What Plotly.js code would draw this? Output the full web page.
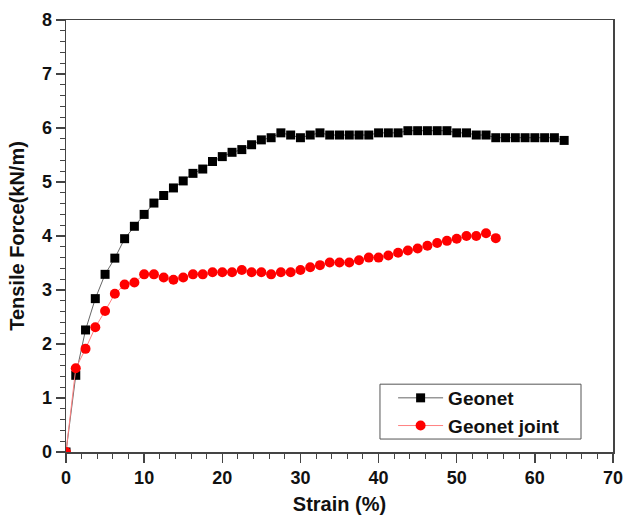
<!DOCTYPE html>
<html>
<head>
<meta charset="utf-8">
<script src="https://cdn.plot.ly/plotly-3.0.1.min.js"></script>
<style>html,body{margin:0;padding:0;background:#fff;}#chart{width:626px;height:516px;}</style>
</head>
<body>
<div id="chart"></div>
<script>
const seriesNames = ["Geonet", "Geonet joint"];
const strainGeonet = [0,1.25,2.5,3.75,5,6.25,7.5,8.75,10,11.25,12.5,13.75,15,16.25,17.5,18.75,20,21.25,22.5,23.75,25,26.25,27.5,28.75,30,31.25,32.5,33.75,35,36.25,37.5,38.75,40,41.25,42.5,43.75,45,46.25,47.5,48.75,50,51.25,52.5,53.75,55,56.25,57.5,58.75,60,61.25,62.5,63.75];
const forceGeonet = [0,1.42,2.26,2.84,3.29,3.59,3.95,4.18,4.40,4.61,4.75,4.89,5.02,5.16,5.24,5.38,5.47,5.55,5.60,5.69,5.78,5.82,5.91,5.87,5.82,5.87,5.91,5.87,5.87,5.87,5.87,5.87,5.91,5.91,5.91,5.95,5.95,5.95,5.95,5.95,5.91,5.91,5.87,5.87,5.82,5.82,5.82,5.82,5.82,5.82,5.82,5.77];
const strainJoint = [0,1.25,2.5,3.75,5,6.25,7.5,8.75,10,11.25,12.5,13.75,15,16.25,17.5,18.75,20,21.25,22.5,23.75,25,26.25,27.5,28.75,30,31.25,32.5,33.75,35,36.25,37.5,38.75,40,41.25,42.5,43.75,45,46.25,47.5,48.75,50,51.25,52.5,53.75,55];
const forceJoint = [0,1.55,1.91,2.31,2.61,2.93,3.10,3.14,3.29,3.29,3.23,3.19,3.23,3.29,3.29,3.33,3.33,3.33,3.37,3.33,3.33,3.29,3.33,3.33,3.37,3.42,3.46,3.51,3.51,3.51,3.55,3.60,3.60,3.64,3.69,3.73,3.77,3.82,3.87,3.91,3.95,4.00,4.00,4.05,3.96];

const FONT = "Liberation Sans, Arial, sans-serif";
const data = [
  {x: strainGeonet, y: forceGeonet, name: seriesNames[0], type: "scatter", mode: "lines+markers",
   line: {color: "#666666", width: 1}, marker: {symbol: "square", size: 9, color: "#000000"}},
  {x: strainJoint, y: forceJoint, name: seriesNames[1], type: "scatter", mode: "lines+markers",
   line: {color: "#ff8080", width: 1}, marker: {symbol: "circle", size: 10, color: "#ff0000"}}
];
const axisCommon = {
  showgrid: false, zeroline: false, showline: true, linecolor: "#444", linewidth: 1.5, mirror: true,
  ticks: "outside", ticklen: 9, tickwidth: 1.5, tickcolor: "#444",
  tickfont: {family: FONT, size: 18, color: "#111", weight: "bold"},
  minor: {ticks: "outside", ticklen: 5, tickwidth: 1, tickcolor: "#444"}
};
const layout = {
  width: 626, height: 516,
  margin: {l: 66, r: 13, t: 20, b: 64},
  paper_bgcolor: "#fff", plot_bgcolor: "#fff",
  showlegend: true,
  legend: {x: 0.598, y: 0.169, xanchor: "left", yanchor: "top", bgcolor: "rgba(0,0,0,0)",
    borderwidth: 0, itemwidth: 45, font: {family: FONT, size: 19, color: "#111", weight: "bold"},
    tracegroupgap: 0},
  shapes: [{type: "rect", xref: "paper", yref: "paper", x0: 0.574, x1: 0.9415, y0: 0.030, y1: 0.157,
    line: {color: "#555", width: 1}, fillcolor: "rgba(0,0,0,0)", layer: "below"}],
  xaxis: Object.assign({}, axisCommon, {range: [0, 70], dtick: 10, minor: Object.assign({}, axisCommon.minor, {dtick: 2}),
    title: {text: "Strain (%)", font: {family: FONT, size: 20, color: "#111", weight: "bold"}, standoff: 10}}),
  yaxis: Object.assign({}, axisCommon, {range: [0, 8], dtick: 1, minor: Object.assign({}, axisCommon.minor, {dtick: 0.2}),
    title: {text: "Tensile Force(kN/m)", font: {family: FONT, size: 20, color: "#111", weight: "bold"}, standoff: 12}})
};
Plotly.newPlot("chart", data, layout, {displayModeBar: false, staticPlot: true});
</script>
</body>
</html>
